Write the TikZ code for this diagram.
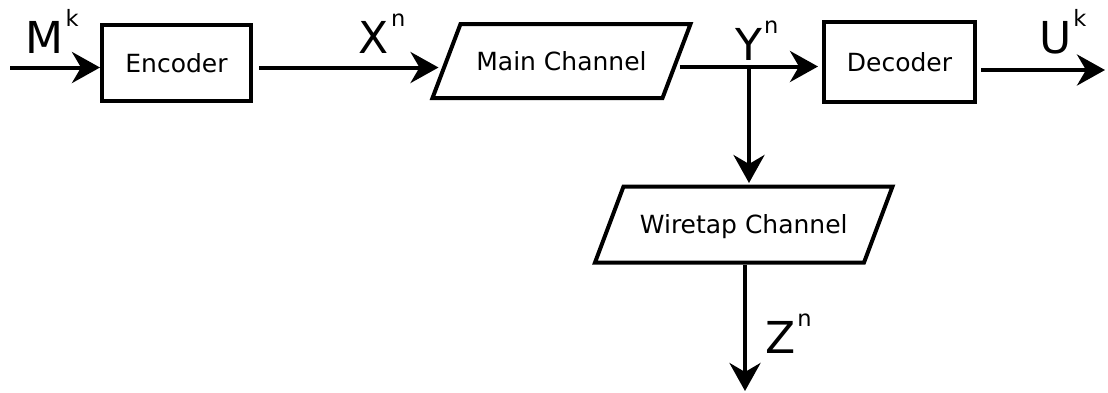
\documentclass[tikz,border=0pt]{standalone}
\usepackage{fontspec}
\setmainfont{DejaVu Sans}
\usetikzlibrary{arrows.meta,calc}
\newcommand{\lbl}[2]{{\fontsize{44}{44}\selectfont #1}\kern2pt\raisebox{27pt}{\fontsize{22.5}{22.5}\selectfont #2}}
\begin{document}
\begin{tikzpicture}[x=1pt,y=-1pt,
  every node/.style={font=\fontsize{25}{25}\selectfont},
  blk/.style={draw, line width=4pt, rectangle, inner sep=0pt, text height=18pt, text depth=0pt},
  parabody/.style={rectangle, inner sep=0pt, outer sep=0pt, text height=18pt, text depth=0pt},
  paraline/.style={line width=4pt, line join=miter},
  conn/.style={line width=4pt, -{Stealth[length=28pt,width=31pt,inset=9pt]}},
  lab/.style={anchor=base west, inner sep=0pt}]
\useasboundingbox (0,0) rectangle (1108,392);
% blocks
\node[blk, minimum width=149pt, minimum height=76pt] (enc) at (176.5,63) {Encoder};
\node[parabody, minimum width=230pt, minimum height=74pt] (main) at (561.5,61) {Main Channel};
\node[blk, minimum width=151pt, minimum height=80pt] (dec) at (899.5,62) {Decoder};
\node[parabody, minimum width=269pt, minimum height=76pt] (wire) at (743.75,224.5) {Wiretap Channel};
\draw[paraline] ($(main.south west)+(-14,0)$) -- ($(main.north west)+(14,0)$)
  -- ($(main.north east)+(14,0)$) -- ($(main.south east)+(-14,0)$) -- cycle;
\draw[paraline] ($(wire.south west)+(-14.25,0)$) -- ($(wire.north west)+(14.25,0)$)
  -- ($(wire.north east)+(14.25,0)$) -- ($(wire.south east)+(-14.25,0)$) -- cycle;
% free ends
\coordinate (in) at (10,67.5);
\coordinate (jn) at (749,66.5);
\coordinate (out) at (1105,70);
\coordinate (zout) at (745,391);
% connectors
\draw[conn] (in) -- (enc.west |- in);
\draw[conn, shorten <=6pt] (enc.east |- in) -- ($(main.west |- in)+(-8,0)$);
\draw[conn, shorten <=3pt, shorten >=4pt] (main.east |- jn) -- (dec.west |- jn);
\draw[conn, shorten >=3.5pt] (jn) -- (jn |- wire.north);
\draw[conn, shorten <=4pt] (dec.east |- out) -- (out);
\draw[conn, shorten <=2pt] (wire.south -| zout) -- (zout);
% labels
\node[lab] (lm) at (25.5,53) {\lbl{M}{k}};
\node[lab] (lx) at (358.7,53) {\lbl{X}{n}};
\node[lab] (ly) at (735,60) {\lbl{Y}{n}};
\node[lab] (lu) at (1039,53) {\lbl{U}{k}};
\node[lab] (lz) at (765,353) {\lbl{Z}{n}};
\end{tikzpicture}
\end{document}
